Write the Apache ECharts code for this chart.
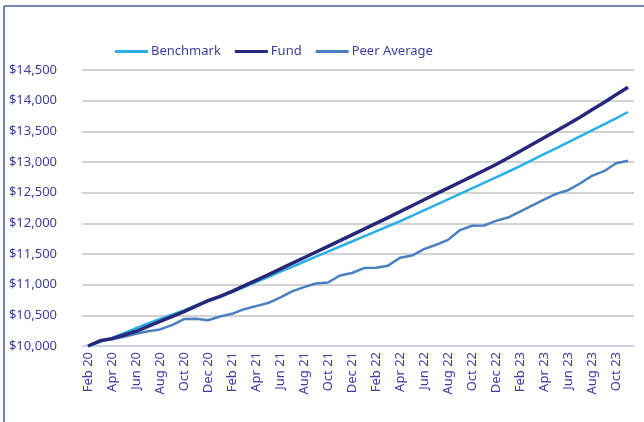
<!DOCTYPE html>
<html>
<head>
<meta charset="utf-8">
<script src="https://cdn.jsdelivr.net/npm/echarts@6/dist/echarts.min.js"></script>
<style>
html,body{margin:0;padding:0;background:#fff;}
#c{width:644px;height:422px;}
</style>
</head>
<body>
<div id="c"></div>
<script>
const months = ["Feb 20","Mar 20","Apr 20","May 20","Jun 20","Jul 20","Aug 20","Sep 20","Oct 20","Nov 20","Dec 20","Jan 21",
"Feb 21","Mar 21","Apr 21","May 21","Jun 21","Jul 21","Aug 21","Sep 21","Oct 21","Nov 21","Dec 21","Jan 22",
"Feb 22","Mar 22","Apr 22","May 22","Jun 22","Jul 22","Aug 22","Sep 22","Oct 22","Nov 22","Dec 22","Jan 23",
"Feb 23","Mar 23","Apr 23","May 23","Jun 23","Jul 23","Aug 23","Sep 23","Oct 23","Nov 23"];
const benchmark = [10000,10070,10130,10210,10290,10370,10440,10510,10580,10660,10730,10800,
10880,10960,11040,11123,11207,11290,11374,11457,11540,11622,11704,11787,
11870,11952,12034,12121,12211,12301,12391,12481,12571,12661,12751,12841,
12934,13030,13127,13224,13321,13418,13516,13614,13712,13815];
const fund = [10000,10085,10120,10180,10240,10320,10400,10480,10560,10650,10740,10810,
10890,10980,11070,11160,11253,11346,11439,11532,11625,11718,11812,11906,
12000,12094,12190,12287,12384,12480,12575,12670,12765,12862,12960,13065,
13175,13285,13395,13505,13615,13730,13850,13970,14095,14220];
const peer = [10000,10080,10110,10150,10200,10240,10270,10340,10440,10445,10420,10480,
10525,10600,10650,10700,10790,10890,10960,11020,11035,11150,11190,11270,
11275,11310,11440,11475,11580,11650,11730,11890,11960,11965,12040,12095,
12190,12290,12385,12480,12540,12650,12775,12850,12980,13020];
const yMin = 10000, yMax = 14500, yStep = 500;

const txt = '#3d3d9e';
const font = 'Noto Sans';
const chart = echarts.init(document.getElementById('c'));
chart.setOption({
  animation: false,
  backgroundColor: '#fff',
  textStyle: {fontFamily: font},
  graphic: [
    {type:'line', shape:{x1:4,y1:6,x2:644,y2:6}, style:{stroke:'#4a5c9c', lineWidth:1.5}},
    {type:'line', shape:{x1:4,y1:6,x2:4,y2:422}, style:{stroke:'#4a5c9c', lineWidth:1.5}}
  ],
  legend: {
    top: 40, left: 110,
    itemWidth: 33, itemHeight: 3, itemGap: 14,
    icon: 'rect',
    textStyle: {color: txt, fontSize: 13, fontFamily: font, padding:[0,0,0,-2]},
    data: ['Benchmark','Fund','Peer Average']
  },
  grid: {left: 82, right: 10, top: 70, bottom: 76},
  xAxis: {
    type: 'category', data: months, boundaryGap: true,
    axisLine: {lineStyle: {color: '#c8d8ee', width: 1.5}},
    axisTick: {interval: 1, length: 5, lineStyle: {color: '#c8d8ee', width: 1.5}},
    axisLabel: {interval: 1, rotate: 90, color: txt, fontSize: 13, fontFamily: font, margin: 6}
  },
  yAxis: {
    type: 'value', min: yMin, max: yMax, interval: yStep,
    axisLine: {show: false}, axisTick: {show: false},
    splitLine: {lineStyle: {color: '#c4c4c4', width: 1.5}},
    axisLabel: {color: txt, fontSize: 13, fontFamily: font, margin: 25,
      formatter: v => '$' + v.toLocaleString('en-US')}
  },
  series: [
    {name:'Benchmark', type:'line', data: benchmark, showSymbol:false, symbol:'none',
      lineStyle:{color:'#2bb0e6', width:2.5}, itemStyle:{color:'#2bb0e6'}, z:3},
    {name:'Fund', type:'line', data: fund, showSymbol:false, symbol:'none',
      lineStyle:{color:'#28287a', width:3.5}, itemStyle:{color:'#28287a'}, z:4},
    {name:'Peer Average', type:'line', data: peer, showSymbol:false, symbol:'none',
      lineStyle:{color:'#4a80c2', width:2.5}, itemStyle:{color:'#4a80c2'}, z:2}
  ]
});
</script>
</body>
</html>
